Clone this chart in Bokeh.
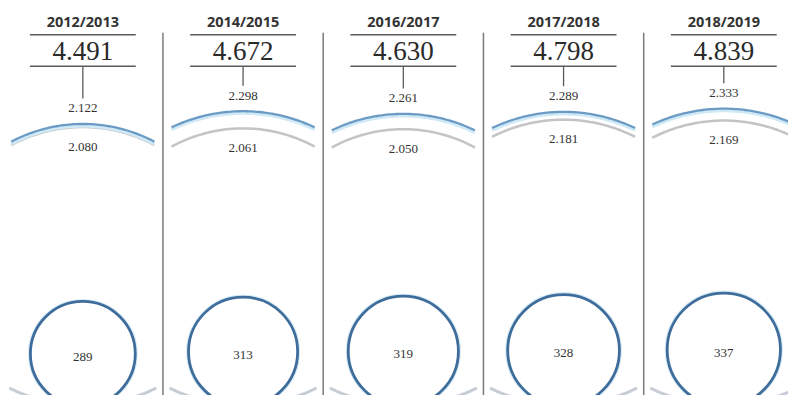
import numpy as np
from bokeh.plotting import figure
from bokeh.models import Range1d, ColumnDataSource
from bokeh.core.properties import value
from bokeh.embed import file_html
from bokeh.resources import INLINE

# ---- data ----
years = ["2012/2013", "2014/2015", "2016/2017", "2017/2018", "2018/2019"]
totals = [4491, 4672, 4630, 4798, 4839]
group_blue = [2122, 2298, 2261, 2289, 2333]
group_grey = [2080, 2061, 2050, 2181, 2169]
group_circle = [289, 313, 319, 328, 337]


def fmt(v):
    return f"{v:,}".replace(",", ".")


# ---- layout constants (reference pixel space) ----
X0, DX = 84, 163.5
cx = [X0 + i * DX for i in range(len(years))]
ARC_CY = 283.0        # common centre of the big arcs
ARC_K = 0.074         # px of radius per unit
HALF = 73.0           # half-width of arcs
CIRC_K = 53.5 / np.sqrt(289)   # circle radius per sqrt(unit)
CIRC_BOTTOM = 414.0

p = figure(width=788, height=395, output_backend="svg", toolbar_location=None,
           x_range=Range1d(0, 804), y_range=Range1d(403, 0),
           min_border=0, background_fill_color="white")
p.axis.visible = False
p.grid.visible = False
p.outline_line_color = None

# dividers between panels
div_x = [(cx[i] + cx[i + 1]) / 2 for i in range(len(cx) - 1)]
p.segment(x0=div_x, y0=[33] * len(div_x), x1=div_x, y1=[420] * len(div_x),
          line_color="#7a7a7a", line_width=1.5)

# horizontal rules around the total
p.segment(x0=[c - 54 for c in cx], y0=[35] * 5, x1=[c + 54 for c in cx], y1=[35] * 5,
          line_color="#5a5a5a", line_width=1.5)
p.segment(x0=[c - 54 for c in cx], y0=[67] * 5, x1=[c + 54 for c in cx], y1=[67] * 5,
          line_color="#5a5a5a", line_width=1.5)


def arc_pts(c, R, cy, top=True, half=HALF):
    a = np.arcsin(min(half / R, 0.999))
    t = np.linspace(-a, a, 60)
    xs = c + R * np.sin(t)
    ys = cy - R * np.cos(t) if top else cy + R * np.cos(t)
    return list(xs), list(ys)


blue_R = [ARC_K * v for v in group_blue]
grey_R = [ARC_K * v for v in group_grey]

# bottom decorative arc
bxs, bys = [], []
for c in cx:
    xs, ys = arc_pts(c, 168, 245, top=False, half=75)
    bxs.append(xs); bys.append(ys)
p.multi_line(bxs, bys, line_color="#c6cdd6", line_width=3)

# grey arcs
gxs, gys = [], []
for c, R in zip(cx, grey_R):
    xs, ys = arc_pts(c, R, ARC_CY)
    gxs.append(xs); gys.append(ys)
p.multi_line(gxs, gys, line_color="#c4c4c6", line_width=2.5)

# blue arcs (with light glow)
hxs, hys, uxs, uys = [], [], [], []
for c, R in zip(cx, blue_R):
    xs, ys = arc_pts(c, R - 2.2, ARC_CY)
    hxs.append(xs); hys.append(ys)
    xs, ys = arc_pts(c, R, ARC_CY)
    uxs.append(xs); uys.append(ys)
p.multi_line(hxs, hys, line_color="#cfe9f6", line_width=3)
p.multi_line(uxs, uys, line_color="#6b9bc4", line_width=2.3)

# connector ticks
blue_top = [ARC_CY - R for R in blue_R]
grey_top = [ARC_CY - R for R in grey_R]
blue_lab_y = [t - 16 for t in blue_top]
grey_lab_y = [t + 20 for t in grey_top]
p.segment(x0=cx, y0=[67] * 5, x1=cx, y1=[y - 10 for y in blue_lab_y],
          line_color="#5a5a5a", line_width=1.3)

# circles
circ_r = [CIRC_K * np.sqrt(v) for v in group_circle]
circ_y = [CIRC_BOTTOM - r for r in circ_r]
p.circle(x=cx, y=circ_y, radius=[r + 1.5 for r in circ_r], fill_color=None,
         line_color="#d6ebf6", line_width=2)
p.circle(x=cx, y=circ_y, radius=circ_r, fill_color="white",
         line_color="#3f6d9b", line_width=2.8)

src = ColumnDataSource(dict(
    x=cx,
    year=years,
    total=[fmt(v) for v in totals],
    blue=[fmt(v) for v in group_blue],
    grey=[fmt(v) for v in group_grey],
    circ=[fmt(v) for v in group_circle],
    blue_y=blue_lab_y,
    grey_y=grey_lab_y,
    circ_y=[y + 3 for y in circ_y],
    title_y=[21] * 5,
    total_y=[52] * 5,
))

p.text(x="x", y="title_y", text="year", source=src, text_align="center",
       text_baseline="middle", text_font=value("Open Sans"), text_font_style="bold",
       text_font_size="14.5px", text_color="#333333")
p.text(x="x", y="total_y", text="total", source=src, text_align="center",
       text_baseline="middle", text_font=value("Liberation Serif"),
       text_font_size="27px", text_color="#2a2a2a")
p.text(x="x", y="blue_y", text="blue", source=src, text_align="center",
       text_baseline="middle", text_font=value("Liberation Serif"),
       text_font_size="13px", text_color="#333333")
p.text(x="x", y="grey_y", text="grey", source=src, text_align="center",
       text_baseline="middle", text_font=value("Liberation Serif"),
       text_font_size="13px", text_color="#333333")
p.text(x="x", y="circ_y", text="circ", source=src, text_align="center",
       text_baseline="middle", text_font=value("Liberation Serif"),
       text_font_size="13px", text_color="#333333")

open("out.html", "w").write(file_html(p, INLINE))
